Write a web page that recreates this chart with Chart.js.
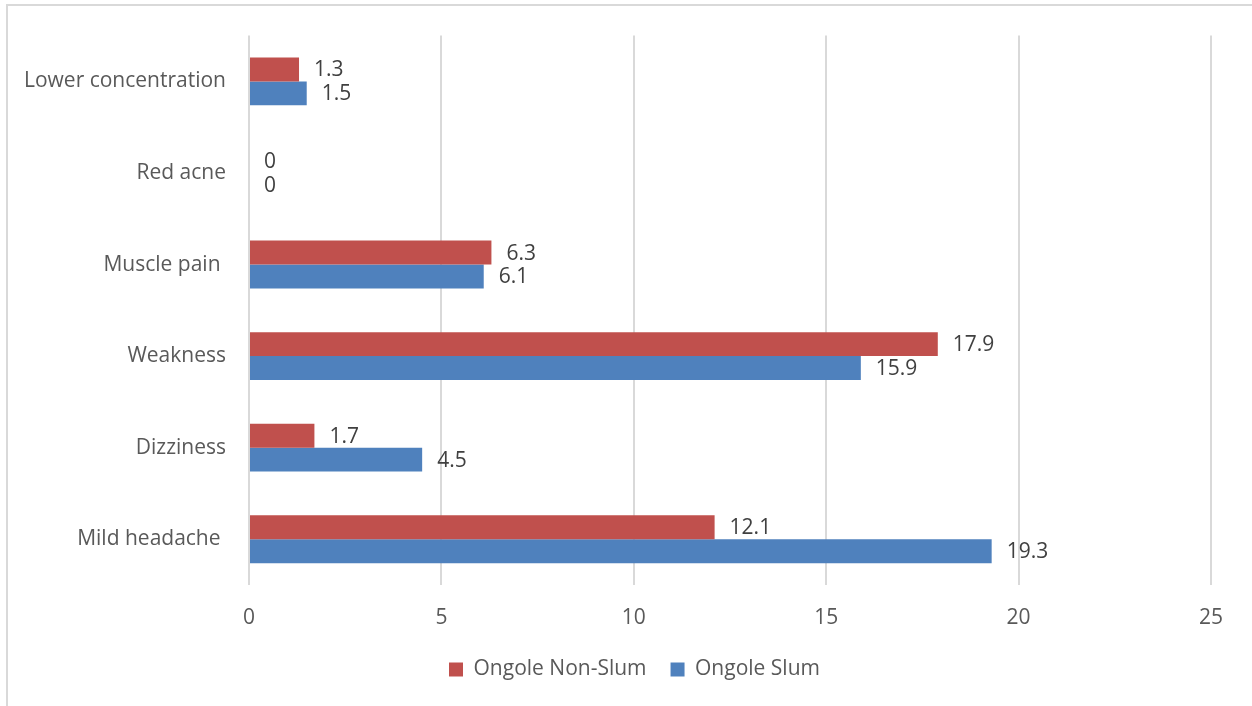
<!DOCTYPE html>
<html>
<head>
<meta charset="utf-8">
<title>Symptoms by area</title>
<script src="https://cdn.jsdelivr.net/npm/chart.js@4/dist/chart.umd.min.js"></script>
<style>
  html, body { margin: 0; padding: 0; background: #ffffff; }
  #wrap { position: relative; width: 1252px; height: 706px; }
</style>
</head>
<body>
<div id="wrap"><canvas id="chart" width="1252" height="706"></canvas></div>
<script>
// Symptom categories, top to bottom
const categories = [
  'Lower concentration',
  'Red acne',
  'Muscle pain ',
  'Weakness',
  'Dizziness',
  'Mild headache '
];

// Percentages per area
const nonSlumValues = [1.3, 0, 6.3, 17.9, 1.7, 12.1];
const slumValues    = [1.5, 0, 6.1, 15.9, 4.5, 19.3];

// Series names
const seriesNames = ['Ongole Non-Slum', 'Ongole Slum'];

// Value axis ticks
const xTicks = [0, 5, 10, 15, 20, 25];

const FONT = '"Open Sans", "Liberation Sans", sans-serif';
const FONT_SIZE = 21;
const TEXT_GREY = '#595959';
const GRID_GREY = '#D9D9D9';

// Light outer frame along the left and top edges
const framePlugin = {
  id: 'frame',
  beforeDraw(chart) {
    const ctx = chart.ctx;
    ctx.save();
    ctx.fillStyle = '#ffffff';
    ctx.fillRect(0, 0, chart.width, chart.height);
    ctx.strokeStyle = GRID_GREY;
    ctx.lineWidth = 2;
    ctx.beginPath();
    ctx.moveTo(7, chart.height);
    ctx.lineTo(7, 5);
    ctx.lineTo(chart.width, 5);
    ctx.stroke();
    ctx.restore();
  }
};

// Let the legend row span out to the canvas' right edge so it centres on the whole frame
const legendSpan = {
  id: 'legendSpan',
  afterLayout(chart) {
    if (chart.legend) chart.legend.right = chart.width;
  }
};

// Value labels to the right of each bar end
const valueLabels = {
  id: 'valueLabels',
  afterDatasetsDraw(chart) {
    const ctx = chart.ctx;
    ctx.save();
    ctx.font = FONT_SIZE + 'px ' + FONT;
    ctx.fillStyle = '#404040';
    ctx.textAlign = 'left';
    ctx.textBaseline = 'middle';
    chart.data.datasets.forEach((ds, di) => {
      const meta = chart.getDatasetMeta(di);
      meta.data.forEach((bar, i) => {
        ctx.fillText(String(ds.data[i]), bar.x + 15, bar.y + 1);
      });
    });
    ctx.restore();
  }
};

new Chart(document.getElementById('chart'), {
  type: 'bar',
  data: {
    labels: categories,
    datasets: [
      {
        label: seriesNames[0],
        data: nonSlumValues,
        backgroundColor: '#C0504D',
        categoryPercentage: 0.523,
        barPercentage: 1.0
      },
      {
        label: seriesNames[1],
        data: slumValues,
        backgroundColor: '#4F81BD',
        categoryPercentage: 0.523,
        barPercentage: 1.0
      }
    ]
  },
  options: {
    indexAxis: 'y',
    responsive: false,
    animation: false,
    layout: { padding: { top: 34, right: 41, bottom: 16, left: 17 } },
    plugins: {
      legend: {
        position: 'bottom',
        labels: {
          boxWidth: 14,
          boxHeight: 14,
          padding: 24,
          color: TEXT_GREY,
          font: { family: FONT, size: FONT_SIZE }
        }
      },
      tooltip: { enabled: false }
    },
    scales: {
      x: {
        min: 0,
        max: 25,
        afterBuildTicks(axis) {
          axis.ticks = xTicks.map(v => ({ value: v }));
        },
        afterFit(axis) { axis.height = 50; },
        grid: { color: GRID_GREY, lineWidth: 2, drawTicks: false },
        border: { display: false },
        ticks: {
          padding: 20,
          color: TEXT_GREY,
          font: { family: FONT, size: FONT_SIZE }
        }
      },
      y: {
        afterFit(axis) { axis.width = 232; },
        grid: { display: false, drawTicks: false },
        border: { display: false },
        ticks: {
          padding: 23,
          color: TEXT_GREY,
          font: { family: FONT, size: FONT_SIZE }
        }
      }
    }
  },
  plugins: [framePlugin, legendSpan, valueLabels]
});
</script>
</body>
</html>
